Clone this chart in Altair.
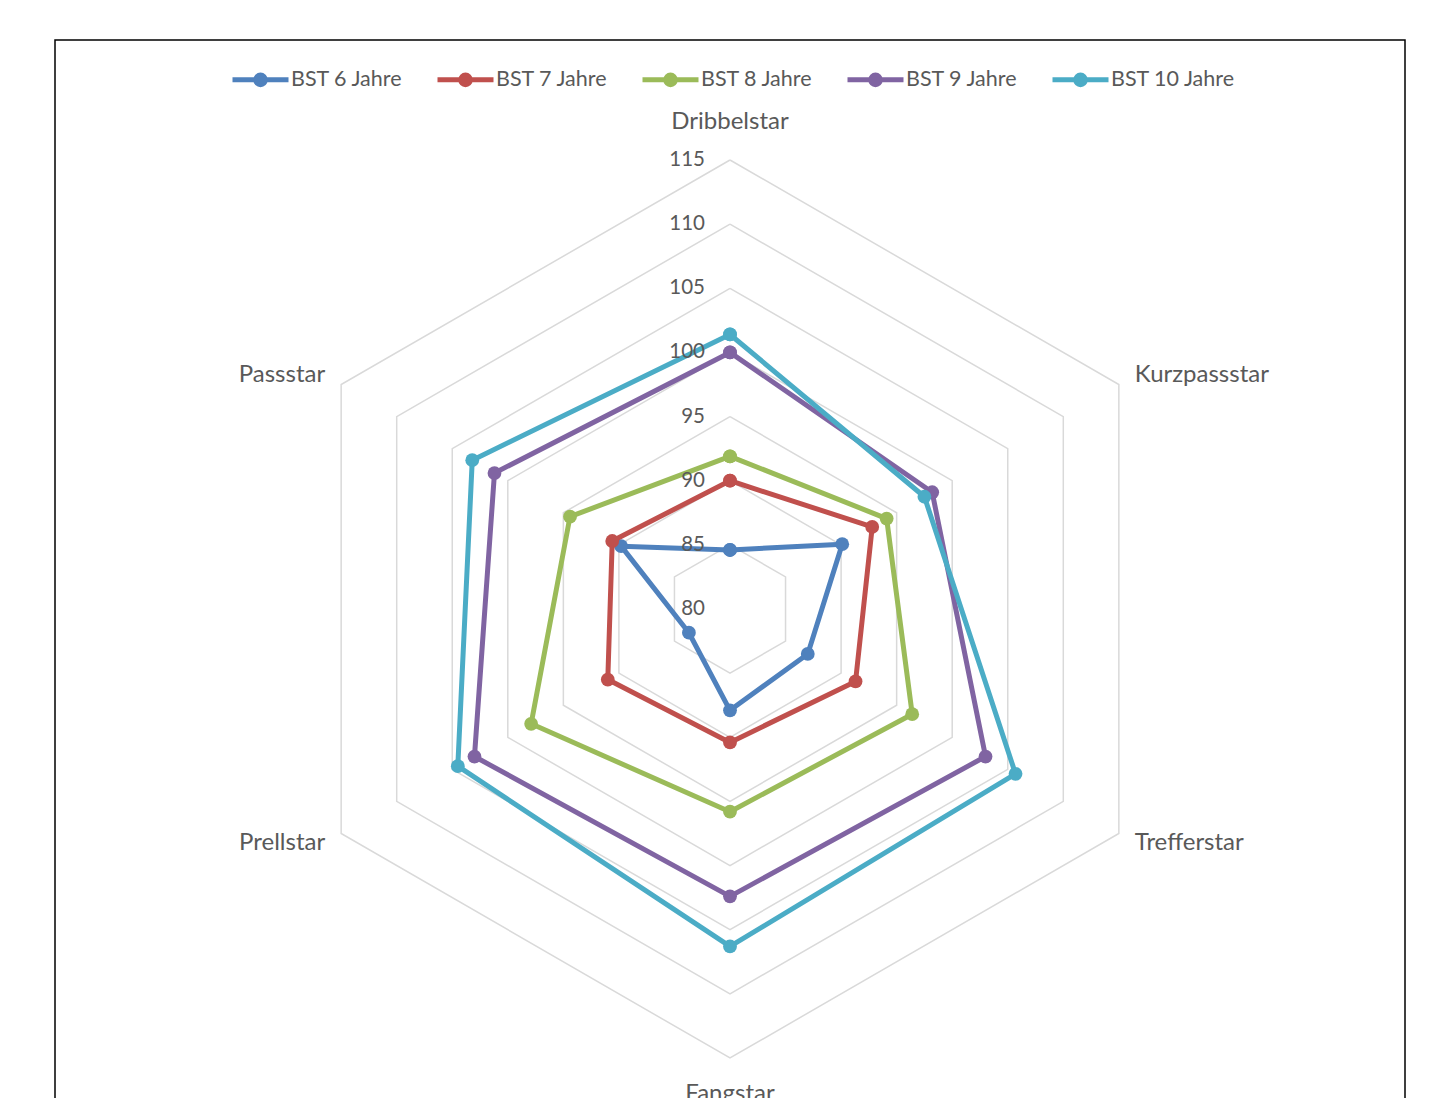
import altair as alt
import pandas as pd

categories = ["Dribbelstar", "Kurzpassstar", "Trefferstar", "Fangstar", "Prellstar", "Passstar"]
series_names = ["BST 6 Jahre", "BST 7 Jahre", "BST 8 Jahre", "BST 9 Jahre", "BST 10 Jahre"]
bst6 = [84.6, 90.1, 87.0, 87.9, 83.7, 89.8]
bst7 = [90.0, 92.8, 91.3, 90.4, 91.0, 90.6]
bst8 = [91.9, 94.1, 96.4, 95.8, 97.9, 94.4]
bst9 = [100.0, 98.2, 103.0, 102.4, 103.0, 101.2]
bst10 = [101.4, 97.5, 105.7, 106.3, 104.5, 103.2]
ring_values = [85, 90, 95, 100, 105, 110, 115]
tick_labels = [80, 85, 90, 95, 100, 105, 110, 115]
axis_min = 80
axis_max = 115
colors = ["#4F81BD", "#C0504D", "#9BBB59", "#8064A2", "#4BACC6"]

all_values = [bst6, bst7, bst8, bst9, bst10]
n = len(categories)

# series table (closed polygons: first point repeated at the end)
rows = []
for name, vals in zip(series_names, all_values):
    for i in range(n + 1):
        k = i % n
        rows.append({"series": name, "category": categories[k], "k": k, "order": i, "value": vals[k]})
df = pd.DataFrame(rows)

grid_rows = []
for rv in ring_values:
    for i in range(n + 1):
        grid_rows.append({"ring": rv, "k": i % n, "order": i, "value": rv})
grid_df = pd.DataFrame(grid_rows)

tick_df = pd.DataFrame({"value": tick_labels, "label": [str(t) for t in tick_labels]})
cat_df = pd.DataFrame({"category": categories, "k": list(range(n)), "value": [axis_max] * n})

# scale: px per unit
K = 449.0 / (axis_max - axis_min)
W = 1350
H = 1138
xdom = [-W / 2 / K, W / 2 / K]
ydom = [-H / 2 / K, H / 2 / K]

xs = alt.X("px:Q", scale=alt.Scale(domain=xdom, nice=False, zero=False), axis=None)
ys = alt.Y("py:Q", scale=alt.Scale(domain=ydom, nice=False, zero=False), axis=None)


def polar(ch):
    return ch.transform_calculate(
        r=f"datum.value - {axis_min}",
        theta=f"datum.k * PI / {n / 2}",
    ).transform_calculate(
        px="datum.r * sin(datum.theta)",
        py="datum.r * cos(datum.theta)",
    )


FONT = "Lato"
TXT = "#595959"

grid = polar(alt.Chart(grid_df)).mark_line(color="#D9D9D9", strokeWidth=1.5).encode(
    x=xs, y=ys, detail="ring:N", order="order:Q"
)

color_enc = alt.Color(
    "series:N",
    scale=alt.Scale(domain=series_names, range=colors),
    legend=alt.Legend(
        title=None,
        orient="none",
        legendX=175,
        legendY=9,
        direction="horizontal",
        columns=5,
        gridAlign="all",
        columnPadding=11,
        symbolType="M-1,0L1,0M0.17,0A0.17,0.17,0,1,1,-0.17,0A0.17,0.17,0,1,1,0.17,0Z",
        symbolSize=3136,
        symbolStrokeWidth=5,
        labelFont=FONT,
        labelFontSize=21.5,
        labelColor=TXT,
        labelOffset=0,
        labelLimit=300,
    ),
)

series_layers = []
for name in series_names:
    base = polar(alt.Chart(df)).transform_filter(alt.datum.series == name)
    line = base.mark_line(strokeWidth=5, strokeJoin="round").encode(
        x=xs, y=ys, color=color_enc, order="order:Q"
    )
    pts = base.mark_point(filled=True, size=190, opacity=1, shape="circle").encode(
        x=xs, y=ys, color=color_enc
    )
    series_layers += [line, pts]

ticks = polar(alt.Chart(tick_df).transform_calculate(k="0")).mark_text(
    align="right", baseline="middle", dx=-25, font=FONT, fontSize=20.5, color=TXT
).encode(x=xs, y=ys, text="label:N")


def cat_label(names, **kw):
    return polar(alt.Chart(cat_df)).transform_filter(
        alt.FieldOneOfPredicate(field="category", oneOf=names)
    ).mark_text(font=FONT, fontSize=24, color=TXT, baseline="middle", **kw).encode(
        x=xs, y=ys, text="category:N"
    )


labels = [
    cat_label(["Dribbelstar"], align="center", dy=-38),
    cat_label(["Fangstar"], align="center", dy=36),
    cat_label(["Kurzpassstar"], align="left", dx=16, dy=-10),
    cat_label(["Trefferstar"], align="left", dx=16, dy=9),
    cat_label(["Passstar"], align="right", dx=-16, dy=-10),
    cat_label(["Prellstar"], align="right", dx=-16, dy=9),
]

chart = alt.layer(grid, *series_layers, ticks, *labels).properties(
    width=W,
    height=H,
    padding={"left": 47, "top": 32, "right": 2, "bottom": 2},
    background="white",
).configure_view(stroke="black", strokeWidth=1.5)

chart.save("out.html", embed_options={"renderer": "svg", "actions": False})
